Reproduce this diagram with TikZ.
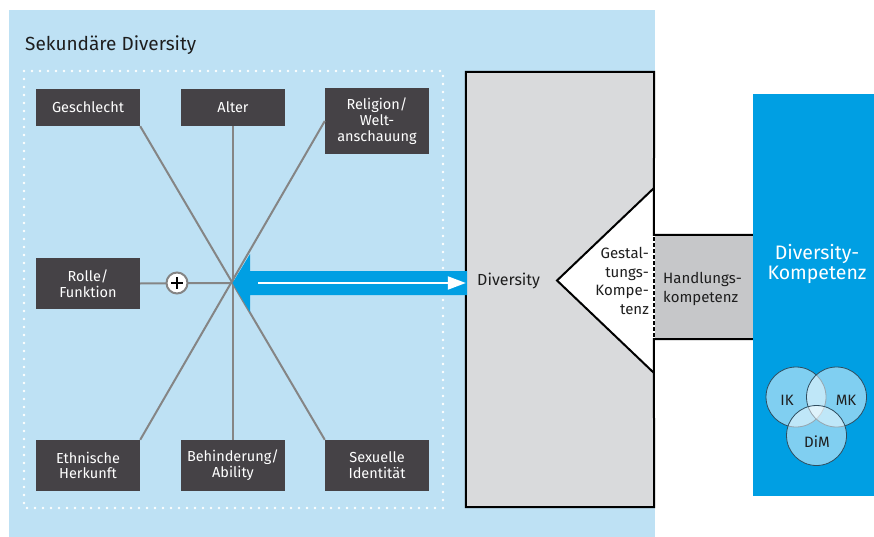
\documentclass[tikz,border=0pt]{standalone}
\usepackage{fontspec}
\setmainfont{Fira Sans}
\usetikzlibrary{arrows.meta,calc}
\definecolor{bgblue}{HTML}{BEE1F4}
\definecolor{kblue}{HTML}{009FE3}
\definecolor{darkbox}{HTML}{454246}
\definecolor{divgray}{HTML}{D9DADC}
\definecolor{handgray}{HTML}{C6C7C9}
\definecolor{spokegray}{HTML}{858585}
\definecolor{txt}{HTML}{1E1E1E}
\definecolor{ringline}{HTML}{2F4D5F}
\begin{document}
\begin{tikzpicture}[x=1pt,y=-1pt,
  factor/.style={fill=darkbox, text=white, minimum width=104pt, inner sep=0pt, align=center,
    font=\fontsize{14.5}{15.8}\selectfont},
  spoke/.style={draw=spokegray, line width=2pt},
  outline/.style={draw=black, line width=2pt, line join=miter},
  ring/.style={circle, minimum size=60pt, inner sep=0pt, fill=white, fill opacity=0.5, draw=ringline, line width=0.8pt},
  ringtext/.style={text=txt, font=\fontsize{15}{18}\selectfont},
  plaintext/.style={text=txt, inner sep=0pt, font=\fontsize{15}{18.5}\selectfont}
]
\useasboundingbox (0,0) rectangle (874,537);
\fill[white] (0,0) rectangle (874,537);
% secondary diversity panel
\node[fill=bgblue, minimum width=646pt, minimum height=527pt, inner sep=0pt] (panel) at (332,273.5) {};
\node[anchor=west, text=txt, inner sep=0pt, font=\fontsize{19}{22}\selectfont] (title) at (25,45) {Sekundäre Diversity};
\draw[white, line width=2.6pt, dash pattern=on 0pt off 8pt, line cap=round] (24,71) rectangle (443,508);

% factor boxes
\node[factor, minimum height=37pt] (geschlecht) at (88,107.5) {Geschlecht};
\node[factor, minimum height=37pt] (alter) at (233,107.5) {Alter};
\node[factor, minimum height=66pt] (religion) at (377,121) {Religion/\\Welt-\\anschauung};
\node[factor, minimum height=51pt] (rolle) at (88,283.5) {Rolle/\\Funktion};
\node[factor, minimum height=51pt] (ethnisch) at (88,465.5) {Ethnische\\Herkunft};
\node[factor, minimum height=51pt] (behinderung) at (233,465.5) {Behinderung/\\Ability};
\node[factor, minimum height=51pt] (sexuell) at (377,465.5) {Sexuelle\\Identität};

\coordinate (hub) at (232.5,283);
\draw[spoke] (geschlecht.south east) -- (sexuell.north west);
\draw[spoke] (alter.south) -- (behinderung.north);
\draw[spoke] (religion.west) -- (ethnisch.north east);
\draw[spoke] (rolle.east) -- (hub);
\node[circle, draw=spokegray, line width=2pt, fill=white, minimum size=21pt, inner sep=0pt] (plus) at (177,283) {};
\draw[line width=1.6pt] ($(plus)+(-6,0)$) -- ($(plus)+(6,0)$);
\draw[line width=1.6pt] ($(plus)+(0,-6)$) -- ($(plus)+(0,6)$);

% diversity box
\node[minimum width=188pt, minimum height=435pt, inner sep=0pt, fill=divgray] (divbox) at (560,289.5) {};
\coordinate (tip) at (557,280.5);
\fill[white] (654,188) -- (tip) -- (654,373) -- cycle;
\node[fill=handgray, minimum width=99pt, minimum height=104pt, inner sep=0pt] (hand) at (703.5,287) {};
\draw[outline] (hand.north east) -- (hand.north west) -- (divbox.north east) -- (divbox.north west)
  -- (divbox.south west) -- (divbox.south east) -- (hand.south west) -- (hand.south east);
\draw[outline] (654,188) -- (tip) -- (654,373);
\draw[white, line width=2pt] (654,236) -- (654,338);
\draw[black, line width=2pt, dash pattern=on 3.5pt off 2.5pt] (654,237) -- (654,338);

% blue arrow
\fill[kblue] (hub) -- (250,254) -- (250,271) -- (467,271) -- (467,295) -- (250,295) -- (250,312) -- cycle;
\coordinate (wstart) at (258,283);
\draw[white, line width=2pt, -{Triangle[length=18pt,width=13pt]}] (wstart) -- (divbox.west |- hub);

\node[plaintext, font=\fontsize{16}{18}\selectfont, anchor=west] (divtext) at (477,281) {Diversity};
\node[plaintext, align=right, anchor=east] (gestalt) at (649,281) {Gestal-\\tungs-\\Kompe-\\tenz};
\node[plaintext, align=left, anchor=west] (handtext) at (663,289) {Handlungs-\\kompetenz};

% Diversity-Kompetenz
\node[fill=kblue, minimum width=121pt, minimum height=402pt, inner sep=0pt] (kbox) at (813.5,295) {};
\node[text=white, align=center, inner sep=0pt, font=\fontsize{19.5}{20.5}\selectfont] (ktext) at (817,264) {Diversity-\\Kompetenz};
\node[ring] (ik) at (796,397) {};
\node[ring] (mk) at (836.5,397) {};
\node[ring] (dim) at (816.5,435.5) {};
\node[ringtext] (iktext) at (787,400) {IK};
\node[ringtext] (mktext) at (846,400) {MK};
\node[ringtext] (dimtext) at (817,442) {DiM};
\end{tikzpicture}
\end{document}
